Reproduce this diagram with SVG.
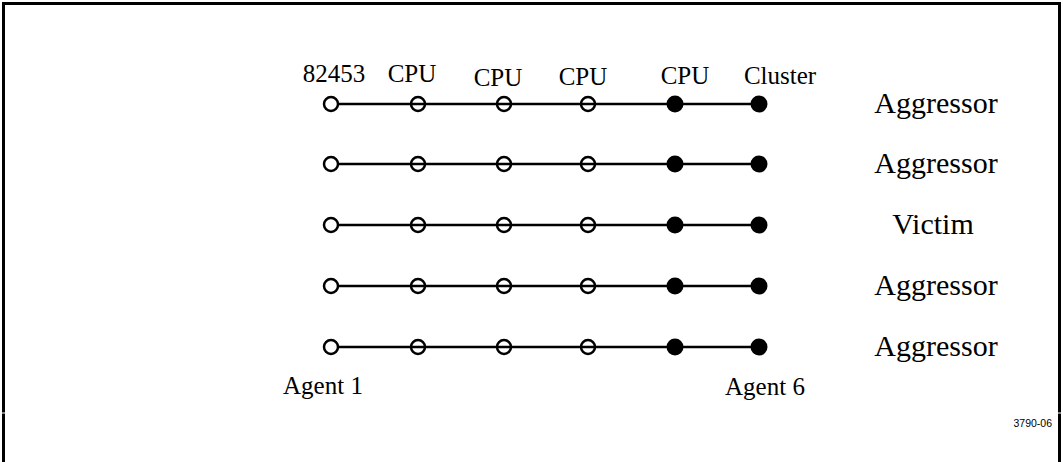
<svg xmlns="http://www.w3.org/2000/svg" width="1063" height="462" viewBox="0 0 1063 462">
<style>
.lbl{font-family:"Liberation Serif","Times New Roman",serif;font-size:25px;fill:#000}
.side{font-family:"Liberation Serif","Times New Roman",serif;font-size:30px;fill:#000}
.tag{font-family:"Liberation Sans",Arial,sans-serif;font-size:10.5px;fill:#000}
.wire{stroke:#000;stroke-width:2.5;fill:none}
.open{fill:none;stroke:#000;stroke-width:2.5}
.first{fill:#fff;stroke:#000;stroke-width:2.5}
.solid{fill:#000}
.frame{stroke:#000;stroke-width:3;fill:none}
</style>
<defs>
<g id="row">
<line class="wire" x1="339" y1="0" x2="759" y2="0"/>
<circle class="first" cx="331" cy="0" r="7"/>
<circle class="open" cx="418" cy="0" r="7"/>
<circle class="open" cx="504" cy="0" r="7"/>
<circle class="open" cx="588" cy="0" r="7"/>
<circle class="solid" cx="675" cy="0" r="8.5"/>
<circle class="solid" cx="759" cy="0" r="8.5"/>
</g>
</defs>
<rect width="1063" height="462" fill="#fff"/>
<g id="frame">
<path class="frame" d="M3.5,462 V413.5 M3.5,412.5 V3.5 H1059.5 V412.5 M1059.5,413.5 V462"/>
</g>
<g id="connectors">
<use href="#row" y="104"/>
<use href="#row" y="164"/>
<use href="#row" y="225"/>
<use href="#row" y="286"/>
<use href="#row" y="347"/>
</g>
<g id="header-labels">
<text class="lbl" x="334" y="82" text-anchor="middle">82453</text>
<text class="lbl" x="412" y="82" text-anchor="middle">CPU</text>
<text class="lbl" x="498" y="86" text-anchor="middle">CPU</text>
<text class="lbl" x="583" y="85" text-anchor="middle">CPU</text>
<text class="lbl" x="685" y="84" text-anchor="middle">CPU</text>
<text class="lbl" x="780" y="84" text-anchor="middle">Cluster</text>
</g>
<g id="row-labels">
<text class="side" x="936" y="113" text-anchor="middle">Aggressor</text>
<text class="side" x="936" y="173" text-anchor="middle">Aggressor</text>
<text class="side" x="933" y="234" text-anchor="middle">Victim</text>
<text class="side" x="936" y="295" text-anchor="middle">Aggressor</text>
<text class="side" x="936" y="356" text-anchor="middle">Aggressor</text>
</g>
<g id="agent-labels">
<text class="lbl" x="323" y="394" text-anchor="middle">Agent 1</text>
<text class="lbl" x="765" y="395" text-anchor="middle">Agent 6</text>
</g>
<g id="figure-tag">
<text class="tag" x="1052" y="427" text-anchor="end">3790-06</text>
</g>
</svg>
